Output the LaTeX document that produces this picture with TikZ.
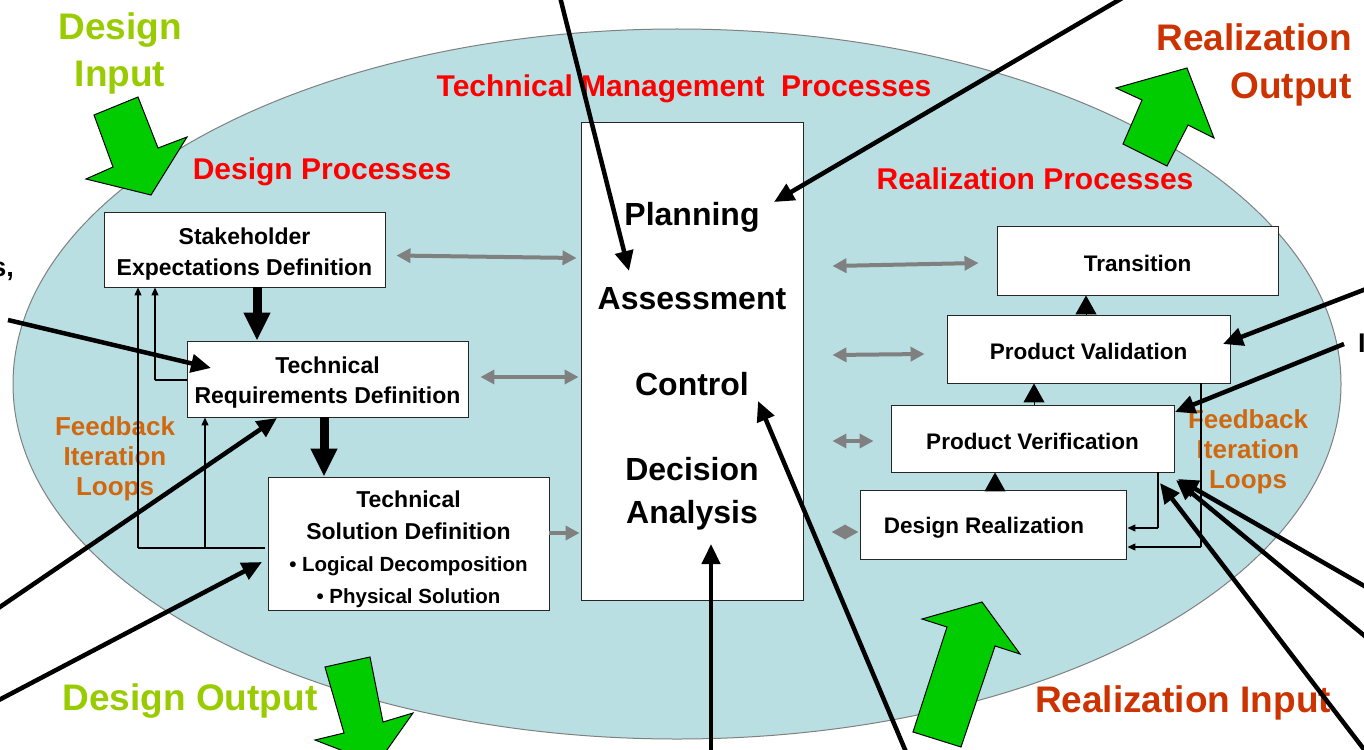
\documentclass[tikz,border=0pt]{standalone}
\usepackage{fontspec}
\setmainfont{Liberation Sans}
\usetikzlibrary{arrows.meta,calc}
\definecolor{ellfill}{HTML}{B9DFE3}
\definecolor{dgreen}{HTML}{99CC00}
\definecolor{agreen}{HTML}{00CC00}
\definecolor{rred}{HTML}{FF0000}
\definecolor{rorange}{HTML}{CC3300}
\definecolor{fborange}{HTML}{D06810}
\definecolor{garrow}{HTML}{808080}
\begin{document}
\begin{tikzpicture}[x=1pt,y=-1pt,
  box/.style={draw=black!85, line width=0.9pt, fill=white, inner sep=0pt},
  btext/.style={align=center, inner sep=0pt, font=\bfseries\fontsize{23}{31}\selectfont},
  rtext/.style={align=center, inner sep=0pt, font=\bfseries\fontsize{22.5}{27}\selectfont},
  word/.style={font=\bfseries\fontsize{32}{38}\selectfont, anchor=base, inner sep=0pt},
  blk/.style={line width=4.5pt, -{Triangle[length=20pt,width=18pt]}},
  gar/.style={draw=garrow, line width=4pt, {Triangle[length=14pt,width=14pt]}-{Triangle[length=14pt,width=14pt]}},
  garr/.style={draw=garrow, line width=4pt, -{Triangle[length=14pt,width=14pt]}},
  fb/.style={line width=1.3pt, -{Triangle[length=8pt,width=7pt]}},
  fbl/.style={line width=1.3pt},
  big/.style={line width=9pt, -{Triangle[length=28pt,width=25pt]}},
  tri/.style={line width=1pt, -{Triangle[length=19pt,width=21pt]}},
  garw/.style={fill=agreen, draw=black, line width=1pt, line join=miter},
  redlab/.style={text=rred, font=\bfseries\fontsize{30}{36}\selectfont},
  grnlab/.style={text=dgreen, font=\bfseries\fontsize{37}{47}\selectfont, align=center},
  orlab/.style={text=rorange, font=\bfseries\fontsize{37}{48}\selectfont},
  fblab/.style={text=fborange, font=\bfseries\fontsize{26}{30}\selectfont, align=center}
]
\useasboundingbox (0,0) rectangle (1364,749);
\fill[white] (0,0) rectangle (1364,749);

% ellipse
\draw[draw=gray, line width=1pt, fill=ellfill] (677,384) ellipse [x radius=664, y radius=355];

% section labels
\node[redlab] (lbtm) at (684,89) {Technical Management\ \ Processes};
\node[redlab] (lbdp) at (322,172) {Design Processes};
\node[redlab] (lbrp) at (1035,179) {Realization Processes};
\node[grnlab] (lbdi) at (120,53) {Design\\Input};
\node[grnlab] (lbdo) at (190,701) {Design Output};
\node[orlab, align=right] (lbro) at (1254,65) {Realization\\Output};
\node[orlab] (lbri) at (1183,703) {Realization Input};
\node[fblab] (fbl1) at (115,459) {Feedback\\Iteration\\Loops};
\node[fblab] (fbl2) at (1248,452) {Feedback\\Iteration\\Loops};

% fragments cut by the frame
\node[font=\bfseries\fontsize{27}{30}\selectfont, anchor=base east, inner sep=0pt] (frag1) at (14,276) {s,};
\node[font=\bfseries\fontsize{27}{30}\selectfont, anchor=base west, inner sep=0pt] (frag2) at (1358,352) {I};

% design boxes
\node[box, minimum width=281, minimum height=75] (sed) at (244.5,249.5) {};
\node[btext] (sedt) at (244.5,254) {Stakeholder\\Expectations Definition};
\node[box, minimum width=281, minimum height=76] (trd) at (327.5,379) {};
\node[btext, font=\bfseries\fontsize{23}{30}\selectfont] (trdt) at (327.5,383) {Technical\\Requirements Definition};
\node[box, minimum width=281, minimum height=133] (tsd) at (408.5,543.5) {};
\node[btext, font=\bfseries\fontsize{23}{32}\selectfont] (tsdt) at (408.5,549)
  {Technical\\Solution Definition\\{\fontsize{20.5}{33}\selectfont\textbullet{} Logical Decomposition}\\{\fontsize{20.5}{29}\selectfont\textbullet{} Physical Solution}};

% management box
\node[box, minimum width=222, minimum height=478] (tm) at (692,361) {};
\node[word] (plan) at (692,225) {Planning};
\node[word] (asse) at (692,309) {Assessment};
\node[word] (ctrl) at (692,395) {Control};
\node[word] (deci) at (692,480) {Decision};
\node[word] (anal) at (692,523) {Analysis};

% realization boxes
\node[box, minimum width=281, minimum height=69] (tra) at (1137.5,260.5) {};
\node[rtext] (trat) at (1137.5,263.5) {Transition};
\node[box, minimum width=283, minimum height=68] (pva) at (1088.5,349) {};
\node[rtext] (pvat) at (1088.5,351) {Product Validation};
\node[box, minimum width=283, minimum height=67] (pve) at (1032.5,438.5) {};
\node[rtext] (pvet) at (1032.5,441.5) {Product Verification};
\node[box, minimum width=266, minimum height=69] (dr) at (993,524.5) {};
\node[rtext] (drt) at (984,528) {Design Realization};

% design flow arrows
\draw[big] (sed.south -| 257,0) -- (trd.north -| 257,0);
\draw[big] (trd.south -| 324,0) -- (tsd.north -| 324,0);

% left feedback loops
\coordinate (fa) at (138,548);
\coordinate (fb) at (205,548);
\draw[fbl] ([xshift=-3pt]tsd.west |- fa) -- (fa);
\draw[fb] (fa) -- (sed.south -| fa);
\draw[fb] (fb) -- (trd.south -| fb);
\coordinate (fc) at (155,380);
\draw[fbl] (trd.west |- fc) -- (fc);
\draw[fb] (fc) -- (sed.south -| fc);

% realization flow triangles
\draw[tri] (dr.north -| 995,0) -- (pve.south -| 995,0);
\draw[tri] (pve.north -| 1034,0) -- (pva.south -| 1034,0);
\draw[tri] (pva.north -| 1086,0) -- (tra.south -| 1086,0);

% right feedback loops
\coordinate (rf1) at (1158,528);
\coordinate (rf2) at (1201,547);
\draw[fbl] (pve.south -| rf1) -- (rf1);
\draw[fb] (rf1) -- ([xshift=1pt]dr.east |- rf1);
\draw[fbl] (pva.south -| rf2) -- (rf2);
\draw[fb] (rf2) -- ([xshift=1pt]dr.east |- rf2);

% grey connectors
\draw[gar] ([xshift=11pt,yshift=-6pt]sed.east) -- ([xshift=-4pt]tm.west |- 0,258);
\draw[gar] ([xshift=12pt,yshift=2pt]trd.east) -- ([xshift=-2pt]tm.west |- 0,377);
\draw[garr] (tsd.east |- 0,533) -- ([xshift=-1pt]tm.west |- 0,533);
\draw[gar] ([xshift=29pt]tm.east |- 0,266) -- ([xshift=-18pt]tra.west |- 0,263);
\draw[gar] ([xshift=29pt]tm.east |- 0,355) -- ([xshift=-22pt]pva.west |- 0,354);
\draw[gar] ([xshift=29pt]tm.east |- 0,441) -- ([xshift=-17pt]pve.west |- 0,441);
\draw[gar] ([xshift=28pt]tm.east |- 0,532) -- ([xshift=-1pt]dr.west |- 0,532);

% green block arrows
\draw[garw] (94,115) -- (138,97) -- (158,148) -- (187,137) -- (151,195) -- (86,179) -- (113,167) -- cycle;
\draw[garw] (325,667) -- (370,657) -- (383,722) -- (413,713) -- (377,764) -- (315,740) -- (344,733) -- cycle;
\draw[garw] (1142,100) -- (1116,88) -- (1187,68) -- (1214,138) -- (1188,125) -- (1167,166) -- (1123,144) -- cycle;
\draw[garw] (947,627) -- (922,619) -- (982,602) -- (1020,654) -- (995,646) -- (961,747) -- (913,732) -- cycle;

% black pointer arrows
\coordinate (s1) at (560,-3);   \coordinate (t1) at (629,271);
\coordinate (s2) at (1124,-3);  \coordinate (t2) at (774,202);
\coordinate (s3) at (8,320);    \coordinate (t3) at (211,368);
\coordinate (s4) at (-3,609);   \coordinate (t4) at (277,418);
\coordinate (s5) at (-3,701);   \coordinate (t5) at (262,562);
\coordinate (s6) at (711,752);  \coordinate (t6) at (711,544);
\coordinate (s7) at (906,752);  \coordinate (t7) at (758,401);
\coordinate (s8) at (1366,289); \coordinate (t8) at (1223,344);
\coordinate (s9) at (1344,344); \coordinate (t9) at (1175,412);
\coordinate (s10) at (1366,752); \coordinate (t10) at (1160,483);
\coordinate (s11) at (1366,637); \coordinate (t11) at (1176,480);
\coordinate (s12) at (1366,587); \coordinate (t12) at (1178,479);
\foreach \i in {1,...,12} { \draw[blk] (s\i) -- (t\i); }
\end{tikzpicture}
\end{document}
